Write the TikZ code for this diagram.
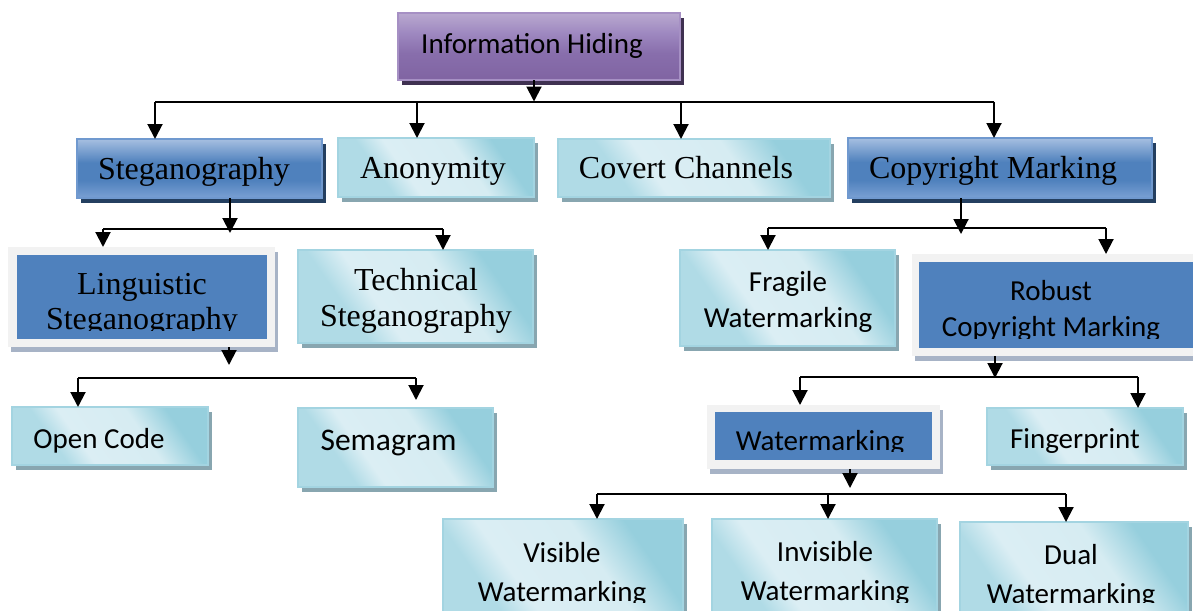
\documentclass[tikz,border=0pt]{standalone}
\usepackage{fontspec}
\setmainfont{Liberation Serif}
\newfontfamily\calib{Carlito}
\usetikzlibrary{arrows.meta,shadows}

\definecolor{purpEdge}{HTML}{A690C4}
\definecolor{purpShade}{HTML}{3F3151}
\definecolor{blueEdge}{HTML}{7099CF}
\definecolor{blueShade}{HTML}{243F60}
\definecolor{flatBlue}{HTML}{4F81BD}
\definecolor{cyanEdge}{HTML}{A3D4E1}
\definecolor{cyanShade}{HTML}{88A6B0}
\definecolor{frameFill}{HTML}{F2F2F2}
\definecolor{frameShade}{HTML}{A7B3C6}

% fills: bottom (25bp) to top (75bp) of the box
\pgfdeclareverticalshading{purplefill}{100bp}{
  color(0bp)=(rgb,255:red,128;green,100;blue,162);
  color(25bp)=(rgb,255:red,128;green,100;blue,162);
  color(45bp)=(rgb,255:red,136;green,110;blue,172);
  color(60bp)=(rgb,255:red,158;green,136;blue,192);
  color(75bp)=(rgb,255:red,185;green,169;blue,207);
  color(100bp)=(rgb,255:red,185;green,169;blue,207)}
\pgfdeclareverticalshading{bluefill}{100bp}{
  color(0bp)=(rgb,255:red,122;green,160;blue,211);
  color(25bp)=(rgb,255:red,122;green,160;blue,211);
  color(40bp)=(rgb,255:red,79;green,129;blue,189);
  color(55bp)=(rgb,255:red,79;green,129;blue,189);
  color(75bp)=(rgb,255:red,166;green,191;blue,225);
  color(100bp)=(rgb,255:red,166;green,191;blue,225)}
\pgfdeclareverticalshading{cyanfill}{100bp}{
  color(0bp)=(rgb,255:red,176;green,219;blue,230);
  color(32bp)=(rgb,255:red,176;green,219;blue,230);
  color(40bp)=(rgb,255:red,219;green,238;blue,244);
  color(60bp)=(rgb,255:red,214;green,236;blue,242);
  color(72bp)=(rgb,255:red,150;green,207;blue,221);
  color(100bp)=(rgb,255:red,150;green,207;blue,221)}

\tikzset{
  box/.style={rectangle, inner sep=0pt, outer sep=0pt},
  purplebox/.style={box, draw=purpEdge, line width=1.5pt, shading=purplefill,
    general shadow={fill=purpShade, shadow xshift=4pt, shadow yshift=-5pt}},
  bluegrad/.style={box, draw=blueEdge, line width=1.5pt, shading=bluefill,
    general shadow={fill=blueShade, shadow xshift=4pt, shadow yshift=-5pt}},
  cyanbox/.style={box, draw=cyanEdge, line width=1.5pt, shading=cyanfill, shading angle=-55,
    general shadow={fill=cyanShade, shadow xshift=4pt, shadow yshift=-5pt}},
  framebox/.style={box, fill=frameFill,
    general shadow={fill=frameShade, shadow xshift=3pt, shadow yshift=-5pt}},
  innerbox/.style={box, fill=flatBlue},
  serifT/.style={font=\fontsize{32}{36}\selectfont, inner sep=0pt, anchor=base, align=center},
  sansT/.style={font=\calib\fontsize{29}{37}\selectfont, inner sep=0pt, anchor=base, align=center},
  conn/.style={line width=2pt},
  arr/.style={conn, -{Triangle[length=15pt,width=15pt]}},
}

\begin{document}
\begin{tikzpicture}[x=1pt,y=-1pt]
\useasboundingbox (0,0) rectangle (1193,610);

% ---- root ----
\node[purplebox, minimum width=282pt, minimum height=67pt] (ih) at (539,46.5) {};
\node[sansT] (ihT) at (532,53) {Information Hiding};

% ---- first level ----
\node[bluegrad, minimum width=245pt, minimum height=59pt] (steg) at (199.5,168.5) {};
\node[serifT] (stegT) at (194,179) {Steganography};
\node[cyanbox, minimum width=196pt, minimum height=59pt] (anon) at (436,167.5) {};
\node[serifT] (anonT) at (433,178) {Anonymity};
\node[cyanbox, minimum width=272pt, minimum height=58pt] (cov) at (694,168) {};
\node[serifT] (covT) at (686,178) {Covert Channels};
\node[bluegrad, minimum width=304pt, minimum height=60pt] (copy) at (1000,168) {};
\node[serifT] (copyT) at (993,178) {Copyright Marking};

% ---- second level (multi-line text: base is the last line) ----
\node[framebox, minimum width=267pt, minimum height=100pt] (ling) at (141.5,297) {};
\node[innerbox, minimum width=250pt, minimum height=84pt] (lingIn) at (142,297) {};
\coordinate (lingCut) at (0,330);
\begin{scope}
  \clip (lingIn.north west) rectangle (lingIn.east |- lingCut);
  \node[serifT, font=\fontsize{32}{35}\selectfont] (lingT) at (142,329) {Linguistic\\Steganography};
\end{scope}

\node[cyanbox, minimum width=235pt, minimum height=93pt] (tech) at (415.5,296.5) {};
\node[serifT] (techT) at (416,326) {Technical\\Steganography};

\node[cyanbox, minimum width=215pt, minimum height=96pt] (frag) at (787.5,298) {};
\node[sansT, font=\calib\fontsize{29}{36}\selectfont] (fragT) at (788,327) {Fragile\\Watermarking};

\node[framebox, minimum width=291pt, minimum height=102pt] (rob) at (1057.5,305) {};
\node[innerbox, minimum width=277pt, minimum height=86pt] (robIn) at (1057.5,305) {};
\coordinate (robCut) at (0,338);
\begin{scope}
  \clip (robIn.north west) rectangle (robIn.east |- robCut);
  \node[sansT, font=\calib\fontsize{29}{36}\selectfont] (robT) at (1051,336) {Robust\\Copyright Marking};
\end{scope}

% ---- third level ----
\node[cyanbox, minimum width=196pt, minimum height=58pt] (open) at (110,436) {};
\node[sansT] (openT) at (99,448) {Open Code};
\node[cyanbox, minimum width=195pt, minimum height=79pt] (sema) at (395.5,447.5) {};
\node[sansT, font=\calib\fontsize{31.5}{35}\selectfont] (semaT) at (388.5,450) {Semagram};

\node[framebox, minimum width=233pt, minimum height=64pt] (wm) at (823.5,437) {};
\node[innerbox, minimum width=217pt, minimum height=48pt] (wmIn) at (823.5,436) {};
\coordinate (wmCut) at (0,451);
\begin{scope}
  \clip (wmIn.north west) rectangle (wmIn.east |- wmCut);
  \node[sansT] (wmT) at (820,450) {Watermarking};
\end{scope}

\node[cyanbox, minimum width=196pt, minimum height=57pt] (fing) at (1085,436.5) {};
\node[sansT] (fingT) at (1075,448) {Fingerprint};

% ---- fourth level ----
\node[cyanbox, minimum width=240pt, minimum height=121pt] (vis) at (563,579.5) {};
\node[cyanbox, minimum width=225pt, minimum height=121pt] (invis) at (824.5,579.5) {};
\node[cyanbox, minimum width=228pt, minimum height=118pt] (dual) at (1074,581) {};
\coordinate (rowCut) at (0,602);
\begin{scope}
  \clip (vis.north west) rectangle (dual.east |- rowCut);
  \node[sansT, font=\calib\fontsize{29}{39}\selectfont] (visT) at (562,601) {Visible\\Watermarking};
  \node[sansT, font=\calib\fontsize{29}{39}\selectfont] (invisT) at (825,600) {Invisible\\Watermarking};
  \node[sansT, font=\calib\fontsize{29}{39}\selectfont] (dualT) at (1071,603) {Dual\\Watermarking};
\end{scope}

% ---- connectors: root to first level ----
\coordinate (b1) at (534,101.5);
\coordinate (b1l) at (155,101.5);
\coordinate (b1a) at (417,101.5);
\coordinate (b1c) at (681,101.5);
\coordinate (b1r) at (994,101.5);
\draw[conn] (b1l) -- (b1r);
\draw[arr] (ih.south -| b1) -- (b1);
\draw[arr] (b1l) -- (b1l |- steg.north);
\draw[arr] (b1a) -- (b1a |- anon.north);
\draw[arr] (b1c) -- (b1c |- cov.north);
\draw[arr] (b1r) -- (b1r |- copy.north);

% ---- steganography branch ----
\coordinate (b2) at (230,233);
\coordinate (b2l) at (103,229);
\coordinate (b2r) at (443,229);
\draw[conn] (b2l) -- (b2r);
\draw[arr] (steg.south -| b2) -- (b2);
\draw[arr] (b2l) -- (b2l |- ling.north);
\draw[arr] (b2r) -- (b2r |- tech.north);

% ---- copyright marking branch ----
\coordinate (b3) at (961,234);
\coordinate (b3l) at (768,228);
\coordinate (b3r) at (1106,228);
\draw[conn] (b3l) -- (b3r);
\draw[arr] (copy.south -| b3) -- (b3);
\draw[arr] (b3l) -- (b3l |- frag.north);
\draw[arr] (b3r) -- (b3r |- rob.north);

% ---- linguistic branch ----
\coordinate (b4) at (229,365);
\coordinate (b4l) at (78,378);
\coordinate (b4r) at (416,378);
\coordinate (b4s) at (416,400);
\draw[conn] (b4l) -- (b4r);
\draw[arr] (ling.south -| b4) -- (b4);
\draw[arr] (b4l) -- (b4l |- open.north);
\draw[arr] (b4r) -- (b4s);

% ---- robust branch ----
\coordinate (b5) at (995,378);
\coordinate (b5l) at (800,377);
\coordinate (b5r) at (1138,377);
\draw[conn] (b5l) -- (b5r);
\draw[arr] (rob.south -| b5) -- (b5);
\draw[arr] (b5l) -- (b5l |- wm.north);
\draw[arr] (b5r) -- (b5r |- fing.north);

% ---- watermarking branch ----
\coordinate (b6) at (850,488);
\coordinate (b6l) at (597,494);
\coordinate (b6m) at (828,494);
\coordinate (b6r) at (1066,494);
\draw[conn] (b6l) -- (b6r);
\draw[arr] (wm.south -| b6) -- (b6);
\draw[arr] (b6l) -- (b6l |- vis.north);
\draw[arr] (b6m) -- (b6m |- invis.north);
\draw[arr] (b6r) -- (b6r |- dual.north);
\end{tikzpicture}
\end{document}
